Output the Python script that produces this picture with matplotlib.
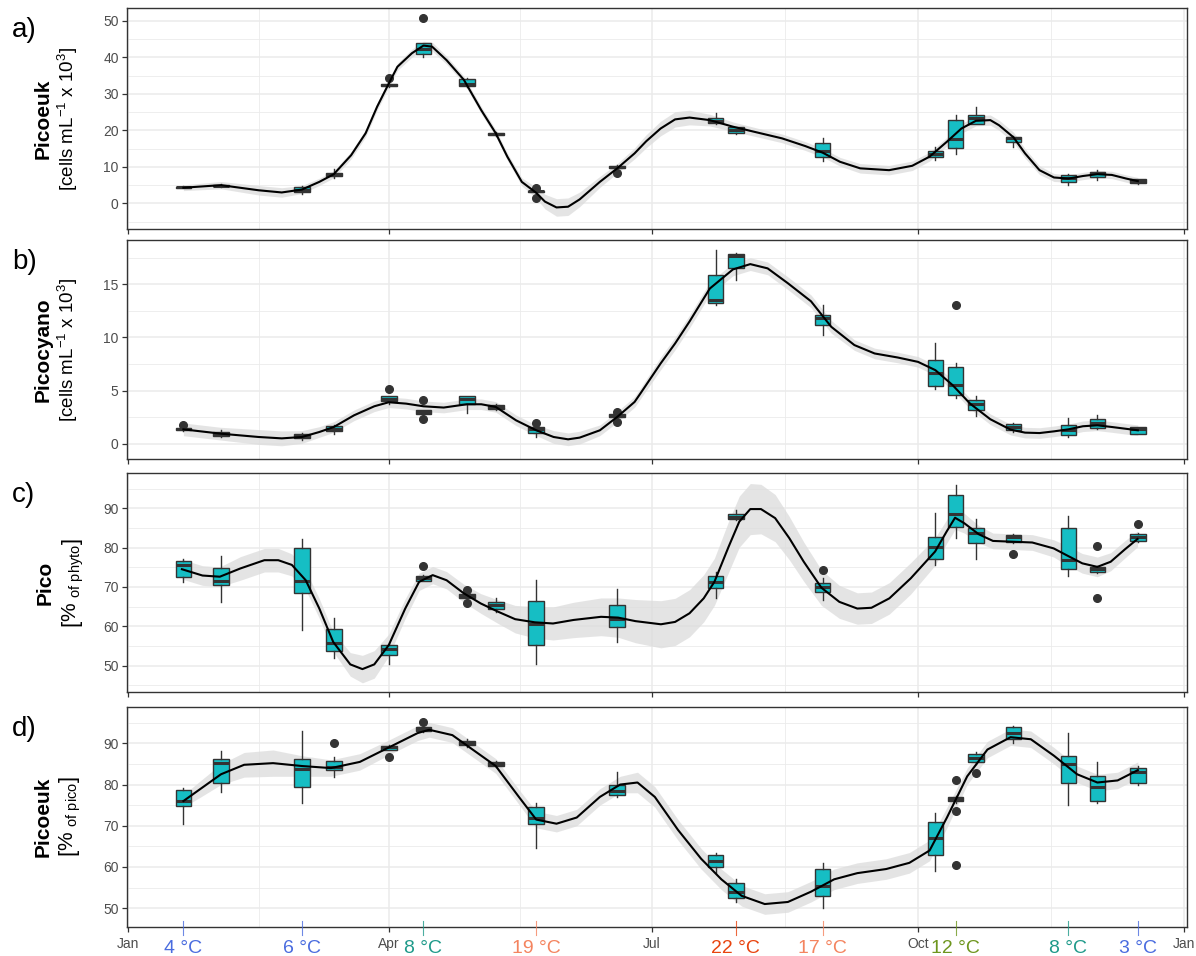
import matplotlib
matplotlib.use("Agg")
import matplotlib.pyplot as plt
from matplotlib.transforms import blended_transform_factory

plt.rcParams['font.family'] = ['Liberation Sans', 'DejaVu Sans']
plt.rcParams['mathtext.fontset'] = 'custom'
plt.rcParams['mathtext.rm'] = 'Liberation Sans'
plt.rcParams['mathtext.it'] = 'Liberation Sans:italic'
plt.rcParams['mathtext.bf'] = 'Liberation Sans:bold'

# ---------------- data ----------------
dates = [19, 32, 60, 71, 90, 102, 117, 127, 141, 169, 203, 210, 240, 279, 286, 293, 306, 325, 335, 349]

month_pos = [0, 90, 181, 273, 365]
month_labels = ["Jan", "Apr", "Jul", "Oct", "Jan"]

temp_days = [19, 60, 102, 141, 210, 240, 286, 325, 349]
temp_labels = ["4 °C", "6 °C", "8 °C", "19 °C", "22 °C", "17 °C", "12 °C", "8 °C", "3 °C"]
temp_colors = ["#4a6cdf", "#4a6cdf", "#1f9a8a", "#f4845f", "#e8430e", "#f4845f", "#6e961e", "#1f9a8a", "#4a6cdf"]

# panel a: Picoeuk cells
a_lo  = [4.1, 4.6, 2.6, 6.9, 31.8, 40.2, 31.8, 18.5, 2.8, 9.5, 21.7, 19.0, 11.7, 12.0, 13.5, 21.7, 15.5, 5.0, 6.4, 5.4]
a_q1  = [4.2, 4.7, 3.0, 7.4, 32.0, 40.8, 32.0, 18.7, 3.0, 9.6, 21.9, 19.4, 12.8, 12.8, 15.1, 21.7, 16.9, 5.9, 7.3, 5.6]
a_med = [4.4, 4.9, 3.6, 7.9, 32.4, 42.3, 32.8, 19.0, 3.3, 10.0, 22.6, 20.1, 14.4, 13.5, 17.5, 23.3, 17.8, 7.0, 8.2, 6.0]
a_q3  = [4.6, 5.1, 4.6, 8.4, 32.8, 43.8, 34.0, 19.4, 3.5, 10.3, 23.5, 20.8, 16.4, 14.4, 22.8, 24.2, 18.2, 7.8, 8.7, 6.6]
a_hi  = [4.7, 5.2, 4.8, 9.3, 33.0, 44.0, 34.3, 19.5, 3.7, 10.4, 24.8, 21.0, 18.0, 15.5, 24.1, 26.5, 18.4, 8.0, 9.1, 6.7]
a_out = [[], [], [], [], [34.3], [50.7], [], [], [4.2, 1.4], [8.4], [], [], [], [], [], [], [], [], [], []]
a_sd = [19, 32, 45, 53, 60, 66, 71, 77, 82, 86, 90, 93, 98, 102, 105, 110, 116, 122, 127, 131, 136, 141, 144, 148,
        152, 156, 163, 169, 175, 179, 184, 189, 194, 201, 209, 218, 226, 234, 240, 246, 253, 263, 271, 277, 283,
        288, 293, 298, 301, 306, 310, 315, 320, 325, 330, 335, 340, 345, 349]
a_sv = [4.3, 5.0, 3.6, 3.0, 3.8, 5.9, 8.0, 13.2, 19.2, 26.5, 32.8, 37.4, 41.1, 43.2, 42.9, 39.2, 33.8, 25.5, 19.2,
        12.8, 5.9, 2.9, 0.5, -1.1, -0.9, 1.1, 5.9, 9.6, 13.7, 17.0, 20.5, 23.0, 23.5, 22.8, 21.0, 19.3, 17.8, 15.7,
        13.9, 11.4, 9.6, 9.1, 10.3, 12.8, 16.9, 20.5, 22.6, 22.8, 21.4, 18.1, 13.7, 9.1, 7.1, 6.8, 7.5, 8.0, 7.8,
        6.8, 6.1]
a_sw = [0.8, 1.0, 1.3, 1.3, 1.1, 1.0, 1.0, 1.0, 1.0, 1.0, 1.0, 1.0, 1.1, 1.2, 1.2, 1.1, 1.0, 1.0, 1.0,
        1.0, 1.1, 1.5, 2.0, 2.4, 2.4, 2.0, 1.5, 1.3, 1.5, 1.8, 2.0, 2.1, 2.0, 1.6, 1.3, 1.2, 1.2, 1.2,
        1.2, 1.2, 1.3, 1.3, 1.3, 1.2, 1.2, 1.3, 1.4, 1.4, 1.4, 1.4, 1.3, 1.2, 1.1, 1.0, 1.0, 1.0, 1.0,
        1.0, 1.0]

# panel b: Picocyano cells
b_lo  = [1.2, 0.6, 0.38, 0.88, 3.77, 2.7, 2.9, 3.2, 0.63, 2.45, 13.05, 15.4, 10.2, 5.1, 4.34, 2.64, 1.1, 0.63, 1.4, 0.9]
b_q1  = [1.26, 0.72, 0.57, 1.16, 4.03, 2.77, 3.71, 3.30, 1.04, 2.52, 13.27, 16.5, 11.16, 5.41, 4.56, 3.14, 1.26, 0.79, 1.51, 0.94]
b_med = [1.35, 0.94, 0.72, 1.42, 4.25, 2.96, 4.18, 3.46, 1.35, 2.64, 13.5, 17.67, 11.8, 6.67, 5.5, 3.77, 1.57, 1.32, 1.95, 1.42]
b_q3  = [1.50, 1.10, 0.88, 1.64, 4.47, 3.14, 4.47, 3.62, 1.57, 2.77, 15.9, 17.86, 12.1, 7.86, 7.23, 4.15, 1.82, 1.73, 2.36, 1.57]
b_hi  = [1.55, 1.25, 1.0, 1.73, 4.5, 3.2, 4.5, 3.7, 1.6, 2.85, 18.2, 17.9, 13.05, 9.5, 7.6, 4.5, 1.9, 2.45, 2.67, 1.6]
b_out = [[1.73], [], [], [], [5.1], [4.15, 2.36], [], [], [1.98], [3.0, 2.05], [], [], [], [], [13.05], [], [], [], [], []]
b_sd = [19, 32, 45, 53, 60, 66, 71, 78, 85, 90, 96, 102, 109, 117, 122, 127, 134, 141, 147, 152, 156, 163, 169, 175,
        177, 184, 189, 194, 201, 209, 215, 221, 228, 236, 243, 251, 258, 266, 273, 279, 285, 291, 298, 305, 310,
        315, 320, 325, 330, 335, 340, 349]
b_sv = [1.35, 0.94, 0.63, 0.5, 0.63, 1.1, 1.57, 2.67, 3.52, 3.9, 3.77, 3.52, 3.4, 3.71, 3.71, 3.46, 2.2, 1.26, 0.63,
        0.41, 0.57, 1.26, 2.52, 3.93, 4.72, 7.55, 9.43, 11.5, 14.6, 16.4, 16.9, 16.5, 15.1, 13.4, 11.0, 9.28, 8.49,
        8.11, 7.7, 6.92, 5.5, 3.77, 2.3, 1.32, 1.04, 1.0, 1.16, 1.35, 1.64, 1.73, 1.57, 1.26]
b_sw = [0.6, 0.6, 0.7, 0.7, 0.6, 0.5, 0.5, 0.5, 0.5, 0.5, 0.5, 0.5, 0.5, 0.5, 0.5, 0.5, 0.5, 0.5, 0.6,
        0.6, 0.6, 0.5, 0.5, 0.5, 0.5, 0.6, 0.6, 0.6, 0.6, 0.6, 0.6, 0.6, 0.6, 0.6, 0.6, 0.5, 0.5,
        0.5, 0.5, 0.5, 0.5, 0.5, 0.5, 0.5, 0.5, 0.5, 0.5, 0.5, 0.5, 0.5, 0.5, 0.5]

# panel c: Pico % of phyto
c_lo  = [71.2, 66.2, 59.0, 51.8, 50.3, 71.4, 67.1, 63.7, 50.5, 56.0, 67.1, 87.1, 66.7, 75.6, 82.5, 77.1, 81.1, 72.8, 73.5, 81.5]
c_q1  = [72.5, 70.5, 68.4, 53.7, 52.6, 71.6, 67.3, 64.4, 55.2, 59.7, 69.8, 87.3, 68.8, 77.1, 85.3, 81.1, 81.3, 74.5, 73.7, 81.8]
c_med = [75.7, 71.5, 71.5, 55.8, 54.2, 72.2, 67.7, 65.4, 60.5, 61.8, 71.2, 87.9, 70.1, 80.1, 88.5, 83.6, 82.8, 76.8, 74.5, 82.8]
c_q3  = [76.7, 74.7, 79.8, 59.2, 55.2, 72.8, 68.1, 66.2, 66.4, 65.4, 72.8, 88.5, 70.9, 82.8, 93.4, 85.1, 83.2, 84.9, 75.1, 83.4]
c_hi  = [77.0, 77.9, 82.2, 62.2, 55.4, 73.0, 68.3, 67.1, 71.7, 69.6, 73.9, 89.6, 72.2, 88.7, 95.9, 87.2, 83.4, 88.1, 75.3, 83.6]
c_out = [[], [], [], [], [], [75.4], [69.2, 66.0], [], [], [], [], [], [74.3], [], [], [], [78.5], [], [80.4, 67.3], [85.9]]
c_sd = [18.5, 25.6, 31.6, 38.7, 47.0, 51.8, 56.5, 61.3, 66.0, 70.8, 76.7, 80.9, 85.0, 90.0, 95.7, 100.5, 105.2, 110.0,
        115.9, 121.8, 127.8, 133.7, 140.5, 146.8, 153.9, 163.4, 169.3, 175.3, 184.1, 189.0, 194.0, 198.9, 202.6,
        207.5, 211.2, 215.0, 218.7, 223.6, 228.5, 233.5, 239.6, 245.8, 252.0, 256.9, 263.1, 270.5, 278.9, 282.9,
        285.8, 289.0, 294.0, 298.9, 305.7, 312.5, 319.9, 324.8, 329.8, 335.0, 339.6, 344.6, 348.9]
c_sv = [74.5, 72.9, 72.6, 74.7, 76.8, 76.8, 75.6, 71.7, 64.5, 56.0, 50.3, 49.1, 50.3, 55.2, 64.5, 71.3, 73.0, 71.7,
        68.4, 65.8, 63.7, 61.8, 61.0, 60.7, 61.6, 62.4, 62.2, 61.3, 60.5, 61.1, 63.3, 67.1, 71.3,
        80.2, 86.6, 89.8, 89.8, 87.5, 82.4, 76.4, 69.8, 66.2, 64.5, 64.7, 67.1, 72.2, 79.0, 84.1,
        87.6, 86.2, 83.4, 81.7, 81.5, 81.3, 79.8, 77.9, 76.0, 75.1, 76.4, 79.6, 82.2]
c_sw = [2.5, 2.5, 2.5, 3.0, 3.0, 3.0, 2.8, 2.5, 2.5, 2.5, 3.0, 3.5, 3.5, 2.8, 2.5, 2.2, 2.2, 2.2,
        2.3, 2.5, 3.0, 3.5, 4.0, 4.2, 4.5, 4.8, 5.0, 5.5, 6.0, 6.0, 6.0, 6.0, 6.0,
        6.5, 6.5, 6.5, 6.3, 6.0, 5.5, 5.0, 4.5, 4.2, 4.0, 4.0, 4.0, 4.0, 3.5, 3.0,
        3.0, 2.5, 2.2, 2.0, 2.0, 2.0, 2.2, 2.5, 2.5, 2.5, 2.3, 2.2, 2.0]

# panel d: Picoeuk % of pico
d_lo  = [70.4, 78.1, 75.5, 81.8, 88.3, 92.8, 89.0, 84.3, 64.5, 77.0, 58.5, 51.5, 50.0, 59.0, 75.5, 85.0, 90.0, 75.0, 75.5, 80.0]
d_q1  = [74.9, 80.3, 79.5, 83.5, 88.5, 93.0, 89.5, 84.5, 70.5, 77.5, 60.0, 52.5, 53.0, 63.0, 76.0, 85.5, 91.0, 80.5, 76.0, 80.5]
d_med = [76.0, 85.3, 83.8, 84.3, 89.0, 93.4, 90.0, 85.0, 72.0, 78.5, 61.5, 54.0, 55.5, 67.0, 76.5, 86.5, 92.5, 85.0, 79.5, 83.0]
d_q3  = [78.7, 86.2, 86.1, 85.7, 89.4, 93.9, 90.5, 85.5, 74.5, 80.0, 63.0, 56.0, 59.5, 71.0, 77.0, 87.5, 94.0, 87.0, 82.0, 84.0]
d_hi  = [79.1, 88.2, 93.1, 86.8, 89.5, 94.1, 91.0, 85.7, 75.5, 83.0, 63.5, 57.0, 61.0, 73.0, 77.2, 88.0, 94.2, 92.5, 85.5, 84.5]
d_out = [[], [], [], [90.2], [86.8], [95.2], [], [], [], [], [], [], [], [], [81.0, 73.5, 60.5], [82.7], [], [], [], []]
d_sd = [19, 25, 32, 40, 50, 60, 70, 80, 90, 100, 104, 112, 120, 127, 135, 141, 148, 155, 163, 170, 176, 182, 190,
        198, 205, 212, 220, 228, 236, 244, 252, 262, 270, 277, 283, 290, 297, 305, 312, 320, 328, 335, 342, 349]
d_sv = [76.0, 79.0, 82.5, 84.8, 85.2, 84.5, 84.0, 85.5, 89.0, 92.5, 93.3, 92.0, 88.0, 84.5, 77.0, 71.5, 70.5, 72.0,
        77.0, 80.0, 80.5, 77.0, 69.0, 62.0, 57.0, 53.0, 51.0, 51.5, 54.0, 57.0, 58.5, 59.5, 61.0, 64.0, 72.0,
        82.0, 88.5, 91.5, 91.0, 87.0, 82.5, 80.5, 81.0, 83.5]
d_sw = [1.5, 2.0, 2.5, 3.0, 3.2, 2.5, 2.0, 2.0, 1.8, 1.8, 1.8, 1.8, 1.8, 1.8, 1.8, 2.0, 2.0, 2.0,
        2.0, 2.0, 2.5, 2.5, 2.5, 2.5, 2.5, 2.5, 2.5, 2.5, 2.5, 2.5, 2.5, 2.5, 2.5, 2.5, 2.5,
        2.0, 2.0, 2.0, 2.0, 2.0, 2.0, 2.0, 2.0, 2.0]

panels = [
    dict(tag="a)", lo=a_lo, q1=a_q1, med=a_med, q3=a_q3, hi=a_hi, out=a_out, sd=a_sd, sv=a_sv, sw=a_sw,
         ylim=(-7.0, 53.4), major=[0, 10, 20, 30, 40, 50], minor=[-5, 5, 15, 25, 35, 45],
         title="Picoeuk", sub=r"[cells mL$^{-1}$ x 10$^{3}$]", subfs=13.5, top=8.3, bot=229.0, tx=43, sx=68),
    dict(tag="b)", lo=b_lo, q1=b_q1, med=b_med, q3=b_q3, hi=b_hi, out=b_out, sd=b_sd, sv=b_sv, sw=b_sw,
         ylim=(-1.47, 19.17), major=[0, 5, 10, 15], minor=[2.5, 7.5, 12.5, 17.5],
         title="Picocyano", sub=r"[cells mL$^{-1}$ x 10$^{3}$]", subfs=13.5, top=240.0, bot=459.3, tx=43, sx=68),
    dict(tag="c)", lo=c_lo, q1=c_q1, med=c_med, q3=c_q3, hi=c_hi, out=c_out, sd=c_sd, sv=c_sv, sw=c_sw,
         ylim=(43.2, 98.9), major=[50, 60, 70, 80, 90], minor=[45, 55, 65, 75, 85, 95],
         title="Pico", sub=r"$\left[\%\ _{\mathrm{of\ phyto}}\right]$", subfs=15, top=473.3, bot=692.3, tx=45, sx=73),
    dict(tag="d)", lo=d_lo, q1=d_q1, med=d_med, q3=d_q3, hi=d_hi, out=d_out, sd=d_sd, sv=d_sv, sw=d_sw,
         ylim=(45.5, 98.9), major=[50, 60, 70, 80, 90], minor=[55, 65, 75, 85, 95],
         title="Picoeuk", sub=r"$\left[\%\ _{\mathrm{of\ pico}}\right]$", subfs=15, top=706.7, bot=926.7, tx=43, sx=70),
]

W, H = 1196, 956
fig = plt.figure(figsize=(W / 100, H / 100), dpi=100)

BOX_FILL = "#16bec4"
DARK = "#333333"
GRID = "#ebebeb"
left_px, right_px = 127.0, 1187.0

axes = []
for i, p in enumerate(panels):
    ax = fig.add_axes([left_px / W, 1 - p["bot"] / H, (right_px - left_px) / W, (p["bot"] - p["top"]) / H])
    axes.append(ax)
    stats = []
    for k in range(len(dates)):
        stats.append(dict(med=p["med"][k], q1=p["q1"][k], q3=p["q3"][k],
                          whislo=p["lo"][k], whishi=p["hi"][k], fliers=p["out"][k]))
    ax.bxp(stats, positions=dates, widths=5.4, patch_artist=True, showcaps=False,
           boxprops=dict(facecolor=BOX_FILL, edgecolor=DARK, linewidth=1.0),
           medianprops=dict(color=DARK, linewidth=2.2),
           whiskerprops=dict(color=DARK, linewidth=1.0),
           flierprops=dict(marker='o', markerfacecolor=DARK, markeredgecolor=DARK, markersize=5.5),
           manage_ticks=False, zorder=3)
    lower = [v - w for v, w in zip(p["sv"], p["sw"])]
    upper = [v + w for v, w in zip(p["sv"], p["sw"])]
    ax.fill_between(p["sd"], lower, upper, color="#dcdcdc", alpha=0.75, lw=0, zorder=2)
    ax.plot(p["sd"], p["sv"], color="black", lw=1.5, zorder=4, solid_joinstyle="round")

    ax.set_xlim(-0.5, 366.0)
    ax.set_ylim(*p["ylim"])
    ax.set_xticks(month_pos)
    ax.set_xticks([45, 135.5, 227, 319], minor=True)
    ax.set_yticks(p["major"])
    ax.set_yticks(p["minor"], minor=True)
    ax.grid(which="major", color=GRID, lw=1.1, zorder=0)
    ax.grid(which="minor", color=GRID, lw=0.6, zorder=0)
    ax.set_axisbelow(True)
    ax.tick_params(which="minor", length=0)
    ax.tick_params(which="major", length=3.5, width=0.9, color=DARK, labelsize=10, labelcolor="#4d4d4d", pad=2.5)
    for s in ax.spines.values():
        s.set_color(DARK)
        s.set_linewidth(1.0)
    if i < 3:
        ax.set_xticklabels([])
    else:
        ax.set_xticklabels(month_labels)
        ax.tick_params(axis="x", pad=4, labelsize=10)
    mid = (p["top"] + p["bot"]) / 2
    fig.text(p["tx"] / W, 1 - mid / H, p["title"], rotation=90, ha="center", va="center",
             fontsize=15, fontweight="bold", color="black")
    fig.text(p["sx"] / W, 1 - mid / H, p["sub"], rotation=90, ha="center", va="center",
             fontsize=p["subfs"], color="black")
    fig.text(12 / W, 1 - (p["top"] + 22) / H, p["tag"], ha="left", va="center", fontsize=20, color="black")

# temperature annotations on bottom axis
axd = axes[-1]
tr = blended_transform_factory(axd.transData, axd.transAxes)
for d, lab, col in zip(temp_days, temp_labels, temp_colors):
    axd.plot([d, d], [-0.038, 0.026], color=col, lw=0.8, transform=tr, clip_on=False, zorder=5, alpha=0.8)
    axd.text(d, -0.098, lab, color=col, fontsize=14, ha="center", va="center", transform=tr)

fig.savefig("out.png", dpi=100)
